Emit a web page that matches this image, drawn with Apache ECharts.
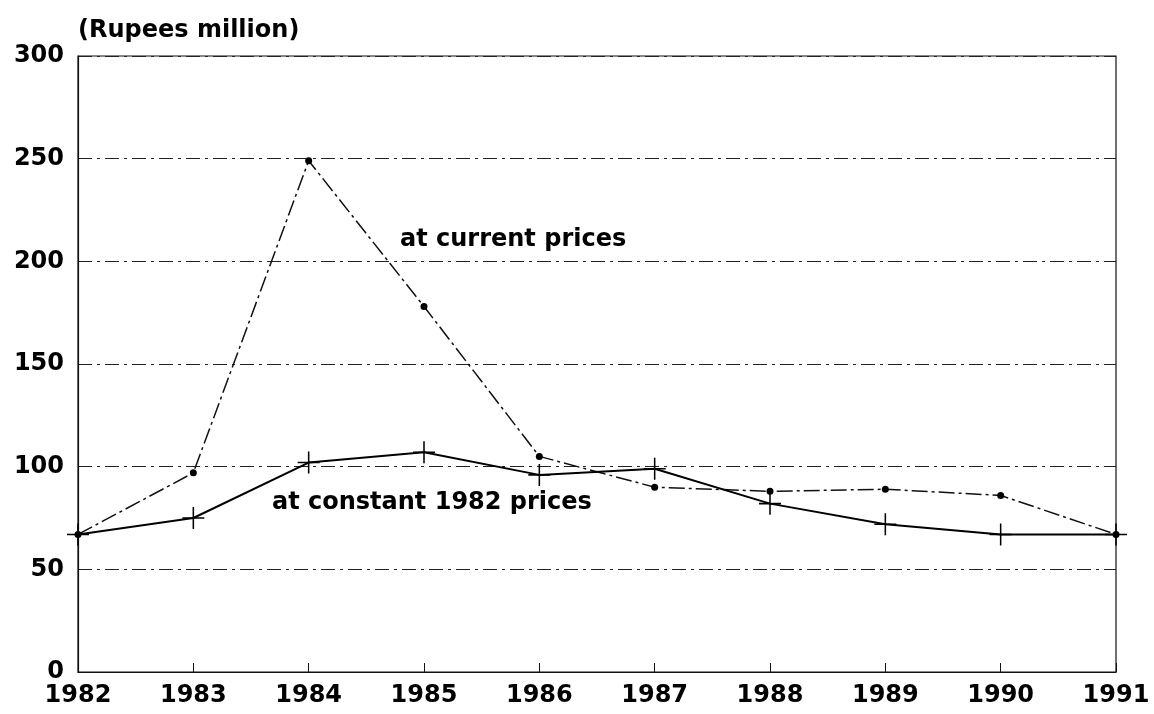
<!DOCTYPE html>
<html>
<head>
<meta charset="utf-8">
<script src="https://cdn.jsdelivr.net/npm/echarts@6/dist/echarts.min.js"></script>
<style>
  html, body { margin: 0; padding: 0; background: #fff; }
</style>
</head>
<body>
<div id="chart" style="width: 1154px; height: 714px"></div>
<script>
const years = ['1982', '1983', '1984', '1985', '1986', '1987', '1988', '1989', '1990', '1991']
const currentPrices = [67, 97, 249, 178, 105, 90, 88, 89, 86, 67]
const constantPrices = [67, 75, 102, 107, 96, 99, 82, 72, 67, 67]
const yTicks = [0, 50, 100, 150, 200, 250, 300]

const chart = echarts.init(document.getElementById('chart'))
const font = 'DejaVu Sans'
// thin plus sign for the constant-price markers
const crossPath = 'path://M0,9.3L20,9.3L20,10.7L0,10.7Z M9.3,0L10.7,0L10.7,20L9.3,20Z'

const options = {
  backgroundColor: '#fff',
  animation: false,
  grid: {
    left: 78,
    right: 38,
    top: 56,
    bottom: 42,
    show: true,
    borderColor: '#111',
    borderWidth: 1.2
  },
  xAxis: {
    type: 'category',
    data: years,
    boundaryGap: false,
    axisLine: { lineStyle: { color: '#111', width: 1.2 } },
    axisTick: { show: true, inside: true, length: 9, lineStyle: { color: '#111' } },
    axisLabel: {
      color: '#000',
      fontFamily: font,
      fontWeight: 'bold',
      fontSize: 24,
      margin: 12
    },
    splitLine: { show: false }
  },
  yAxis: {
    type: 'value',
    min: yTicks[0],
    max: yTicks[yTicks.length - 1],
    interval: 50,
    name: '(Rupees million)',
    nameLocation: 'end',
    nameGap: 13,
    nameTextStyle: {
      align: 'left',
      color: '#000',
      fontFamily: font,
      fontWeight: 'bold',
      fontSize: 24
    },
    axisLine: { show: true, lineStyle: { color: '#111', width: 1.2 } },
    axisTick: { show: false },
    axisLabel: {
      color: '#000',
      fontFamily: font,
      fontWeight: 'bold',
      fontSize: 24,
      margin: 14
    },
    splitLine: {
      show: true,
      lineStyle: { color: '#222', width: 1, type: [14, 5, 3, 5] }
    }
  },
  graphic: [
    {
      type: 'text',
      left: 400,
      top: 228,
      style: {
        text: 'at current prices',
        fill: '#000',
        font: 'bold 24px "DejaVu Sans"'
      }
    },
    {
      type: 'text',
      left: 272,
      top: 491,
      style: {
        text: 'at constant 1982 prices',
        fill: '#000',
        font: 'bold 24px "DejaVu Sans"'
      }
    }
  ],
  series: [
    {
      name: 'at current prices',
      type: 'line',
      data: currentPrices,
      symbol: 'circle',
      symbolSize: 7,
      itemStyle: { color: '#000' },
      lineStyle: { color: '#111', width: 1.5, type: [16, 4, 3, 4] }
    },
    {
      name: 'at constant 1982 prices',
      type: 'line',
      data: constantPrices,
      symbol: crossPath,
      symbolSize: [22, 22],
      itemStyle: { color: '#000' },
      lineStyle: { color: '#000', width: 2 }
    }
  ]
}

chart.setOption(options)
</script>
</body>
</html>
